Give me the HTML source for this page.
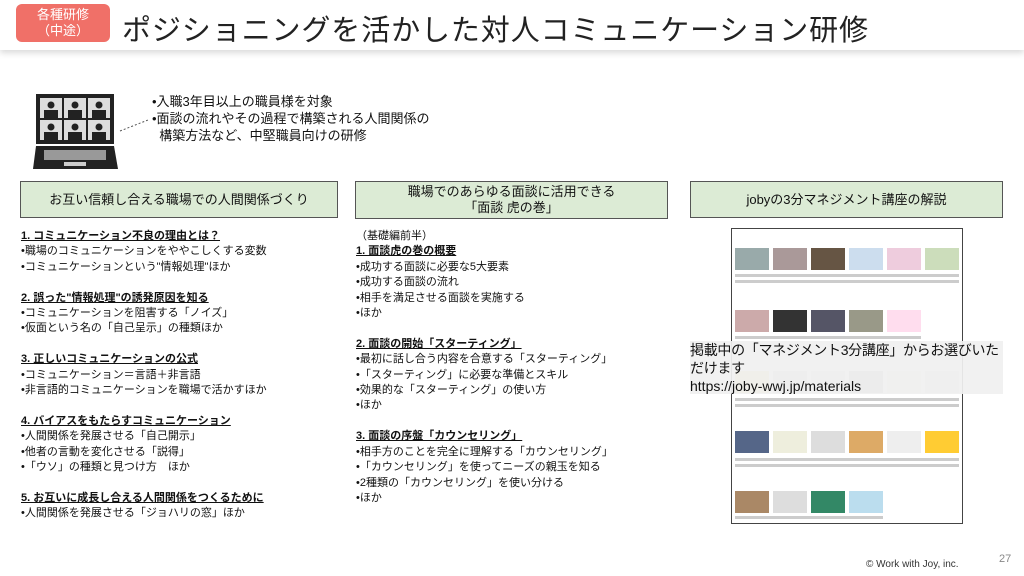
<!DOCTYPE html>
<html><head><meta charset="utf-8"><style>
body{margin:0;width:1024px;height:576px;background:#fff;position:relative;overflow:hidden;font-family:"Liberation Sans","Noto Sans CJK JP",sans-serif;color:#111}
.a{position:absolute;white-space:nowrap}
.hdr{position:absolute;left:0;top:0;width:1024px;height:50px;background:#fff;box-shadow:0 3px 6px rgba(0,0,0,.15)}
.badge{position:absolute;left:16px;top:4px;width:94px;height:38px;background:#f07068;border-radius:6px;color:#fff;font-size:13px;line-height:16px;text-align:center;padding-top:3px;box-sizing:border-box}
.box{position:absolute;height:37px;background:#dcebd5;border:1px solid #555;box-sizing:border-box;font-size:13px;display:flex;align-items:center;justify-content:center;text-align:center;line-height:16px}
.t{position:absolute;font-size:11px;line-height:15.4px;white-space:nowrap}
.t b{text-decoration:underline;font-weight:bold}
.sh{position:absolute;left:731px;top:228px;width:232px;height:296px;border:1px solid #444;box-sizing:border-box;background:#fff}
</style></head><body>
<div class="hdr"></div>
<div class="badge">各種研修<br>（中途）</div>
<div class="a" style="left:122px;top:7px;font-size:29px;color:#222;letter-spacing:0.9px">ポジショニングを活かした対人コミュニケーション研修</div>

<svg class="a" style="left:30px;top:90px" width="125" height="85">
<rect x="6" y="4" width="78" height="50" fill="#222"/>
<g fill="#ddd"><rect x="10" y="8" width="22" height="20"/><rect x="34" y="8" width="22" height="20"/><rect x="58" y="8" width="22" height="20"/><rect x="10" y="30" width="22" height="20"/><rect x="34" y="30" width="22" height="20"/><rect x="58" y="30" width="22" height="20"/></g>
<g fill="#222"><circle cx="21" cy="15" r="3.5"/><circle cx="45" cy="15" r="3.5"/><circle cx="69" cy="15" r="3.5"/><circle cx="21" cy="37" r="3.5"/><circle cx="45" cy="37" r="3.5"/><circle cx="69" cy="37" r="3.5"/>
<rect x="14" y="20" width="14" height="8"/><rect x="38" y="20" width="14" height="8"/><rect x="62" y="20" width="14" height="8"/><rect x="14" y="42" width="14" height="8"/><rect x="38" y="42" width="14" height="8"/><rect x="62" y="42" width="14" height="8"/></g>
<polygon points="6,56 84,56 88,79 3,79" fill="#222"/>
<rect x="14" y="60" width="62" height="10" fill="#999"/><rect x="34" y="72" width="22" height="4" fill="#ccc"/>
<line x1="90" y1="41" x2="118" y2="30" stroke="#555" stroke-dasharray="2,2"/>
</svg>
<div class="a" style="left:152px;top:93px;font-size:13px;line-height:17px">•入職3年目以上の職員様を対象<br>•面談の流れやその過程で構築される人間関係の<br>&nbsp;&nbsp;構築方法など、中堅職員向けの研修</div>

<div class="box" style="left:20px;top:181px;width:318px">お互い信頼し合える職場での人間関係づくり</div>
<div class="box" style="left:355px;top:181px;width:313px;height:38px">職場でのあらゆる面談に活用できる<br>「面談 虎の巻」</div>
<div class="box" style="left:690px;top:181px;width:313px">jobyの3分マネジメント講座の解説</div>

<div class="t" style="left:21px;top:229px"><b>1. コミュニケーション不良の理由とは？</b><br>•職場のコミュニケーションをややこしくする変数<br>•コミュニケーションという"情報処理"ほか<br><br><b>2. 誤った"情報処理"の誘発原因を知る</b><br>•コミュニケーションを阻害する「ノイズ」<br>•仮面という名の「自己呈示」の種類ほか<br><br><b>3. 正しいコミュニケーションの公式</b><br>•コミュニケーション＝言語＋非言語<br>•非言語的コミュニケーションを職場で活かすほか<br><br><b>4. バイアスをもたらすコミュニケーション</b><br>•人間関係を発展させる「自己開示」<br>•他者の言動を変化させる「説得」<br>•「ウソ」の種類と見つけ方　ほか<br><br><b>5. お互いに成長し合える人間関係をつくるために</b><br>•人間関係を発展させる「ジョハリの窓」ほか</div>

<div class="t" style="left:356px;top:229px">（基礎編前半）<br><b>1. 面談虎の巻の概要</b><br>•成功する面談に必要な5大要素<br>•成功する面談の流れ<br>•相手を満足させる面談を実施する<br>•ほか<br><br><b>2. 面談の開始「スターティング」</b><br>•最初に話し合う内容を合意する「スターティング」<br>•「スターティング」に必要な準備とスキル<br>•効果的な「スターティング」の使い方<br>•ほか<br><br><b>3. 面談の序盤「カウンセリング」</b><br>•相手方のことを完全に理解する「カウンセリング」<br>•「カウンセリング」を使ってニーズの親玉を知る<br>•2種類の「カウンセリング」を使い分ける<br>•ほか</div>

<div class="sh"></div>
<svg class="a" style="left:733px;top:238px" width="228" height="284">
<g>
<rect x="2" y="10" width="34" height="22" fill="#9aa"/><rect x="40" y="10" width="34" height="22" fill="#a99"/><rect x="78" y="10" width="34" height="22" fill="#654"/><rect x="116" y="10" width="34" height="22" fill="#cde"/><rect x="154" y="10" width="34" height="22" fill="#ecd"/><rect x="192" y="10" width="34" height="22" fill="#cdb"/>
<rect x="2" y="72" width="34" height="22" fill="#caa"/><rect x="40" y="72" width="34" height="22" fill="#333"/><rect x="78" y="72" width="34" height="22" fill="#556"/><rect x="116" y="72" width="34" height="22" fill="#998"/><rect x="154" y="72" width="34" height="22" fill="#fde"/>
<rect x="2" y="133" width="34" height="22" fill="#ed9"/><rect x="40" y="133" width="34" height="22" fill="#ccc"/><rect x="78" y="133" width="34" height="22" fill="#ddd"/><rect x="116" y="133" width="34" height="22" fill="#bbb"/><rect x="154" y="133" width="34" height="22" fill="#eed"/><rect x="192" y="133" width="34" height="22" fill="#ddd"/>
<rect x="2" y="193" width="34" height="22" fill="#568"/><rect x="40" y="193" width="34" height="22" fill="#eed"/><rect x="78" y="193" width="34" height="22" fill="#ddd"/><rect x="116" y="193" width="34" height="22" fill="#da6"/><rect x="154" y="193" width="34" height="22" fill="#eee"/><rect x="192" y="193" width="34" height="22" fill="#fc3"/>
<rect x="2" y="253" width="34" height="22" fill="#a86"/><rect x="40" y="253" width="34" height="22" fill="#ddd"/><rect x="78" y="253" width="34" height="22" fill="#386"/><rect x="116" y="253" width="34" height="22" fill="#bde"/>
</g>
<g fill="#ccc"><rect x="2" y="36" width="224" height="3"/><rect x="2" y="42" width="224" height="3"/><rect x="2" y="98" width="186" height="3"/><rect x="2" y="160" width="224" height="3"/><rect x="2" y="166" width="224" height="3"/><rect x="2" y="220" width="224" height="3"/><rect x="2" y="226" width="224" height="3"/><rect x="2" y="278" width="148" height="3"/></g>
</svg>
<div class="a" style="left:690px;top:341px;width:313px;height:53px;background:rgba(240,240,240,.93)"></div>
<div class="a" style="left:690px;top:341px;width:330px;font-size:14px;line-height:18px;white-space:normal;letter-spacing:-0.3px">掲載中の「マネジメント3分講座」からお選びいた<br>だけます<br><span style="letter-spacing:0">https://joby-wwj.jp/materials</span></div>

<div class="a" style="left:866px;top:559px;font-size:10px;color:#333">© Work with Joy, inc.</div>
<div class="a" style="left:999px;top:553px;font-size:11px;color:#888">27</div>
</body></html>
